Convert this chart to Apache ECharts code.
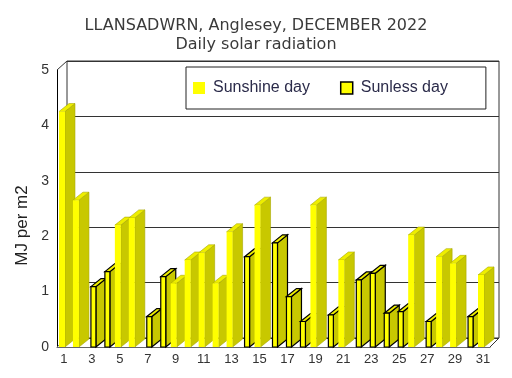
<!DOCTYPE html>
<html>
<head>
<meta charset="utf-8">
<script src="https://cdn.jsdelivr.net/npm/echarts@6/dist/echarts.min.js"></script>
<style>
html, body { margin: 0; padding: 0; background: #fff; }
#chart { width: 512px; height: 378px; }
</style>
</head>
<body>
<div id="chart"></div>
<script>
var days = ['1','2','3','4','5','6','7','8','9','10','11','12','13','14','15','16',
            '17','18','19','20','21','22','23','24','25','26','27','28','29','30','31'];
var radiation = [4.25, 2.65, 1.09, 1.36, 2.20, 2.33, 0.55, 1.27, 1.15, 1.57, 1.70, 1.15, 2.08, 1.63, 2.56, 1.88,
                 0.91, 0.46, 2.56, 0.58, 1.57, 1.21, 1.33, 0.61, 0.64, 2.02, 0.46, 1.63, 1.51, 0.55, 1.30];
// 1 = sunless day
var sunless = [0,0,1,1,0,0,1,1,0,0,0,0,0,1,0,1,1,1,0,1,0,1,1,1,1,0,1,0,0,1,0];
var seriesNames = ['Sunshine day', 'Sunless day'];

var DX = 10, DY = 8; // depth of the 3d look

var barData = [];
for (var i = 0; i < days.length; i++) {
    barData.push([days[i], radiation[i], sunless[i]]);
}

function renderBar(params, api) {
    var v = api.value(1);
    var dull = api.value(2);
    var top = api.coord([api.value(0), v]);
    var base = api.coord([api.value(0), 0]);
    var w = dull ? 5 : 6;
    var x0 = top[0] + (dull ? -1 : -5);
    var x1 = x0 + w;
    var edge = dull ? '#000' : '#a8a800';
    return {
        type: 'group',
        children: [{
            type: 'polygon',
            shape: { points: [[x1, top[1]], [x1 + DX, top[1] - DY], [x1 + DX, base[1] - DY], [x1, base[1]]] },
            style: { fill: '#c8c800', stroke: edge, lineWidth: dull ? 1.2 : 0.6 }
        }, {
            type: 'polygon',
            shape: { points: [[x0, top[1]], [x0 + DX, top[1] - DY], [x1 + DX, top[1] - DY], [x1, top[1]]] },
            style: { fill: '#eeee00', stroke: edge, lineWidth: dull ? 1.2 : 0.6 }
        }, {
            type: 'rect',
            shape: { x: x0, y: top[1], width: w, height: base[1] - top[1] },
            style: { fill: '#ffff00', stroke: dull ? '#000' : null, lineWidth: 1.2 }
        }]
    };
}

var myChart = echarts.init(document.getElementById('chart'));
var option = {
    animation: false,
    title: {
        left: 'center',
        top: 11,
        text: 'LLANSADWRN, Anglesey, DECEMBER 2022\nDaily solar radiation',
        textStyle: { fontFamily: 'DejaVu Sans', fontSize: 16, fontWeight: 'normal', color: '#3a3a3a', lineHeight: 19 }
    },
    legend: {
        left: 186,
        top: 67,
        padding: [13, 38, 13, 7],
        itemWidth: 12,
        itemHeight: 12,
        itemGap: 30,
        borderColor: '#222',
        borderWidth: 1,
        backgroundColor: '#fff',
        textStyle: { fontFamily: 'Liberation Sans', fontSize: 16, color: '#2b2b4a', padding: [0, 0, 0, 3] },
        data: [
            { name: seriesNames[0], icon: 'rect', itemStyle: { color: '#ffff00', borderWidth: 0 } },
            { name: seriesNames[1], icon: 'rect', itemStyle: { color: '#ffff00', borderColor: '#000', borderWidth: 1.5 } }
        ]
    },
    grid: [
        { left: 57, right: 22, top: 70, bottom: 31 },
        { left: 67, right: 13, top: 61, bottom: 40, show: true, borderColor: '#333', borderWidth: 1 }
    ],
    xAxis: [{
        gridIndex: 0,
        type: 'category',
        data: days,
        axisLine: { show: true, lineStyle: { color: '#666' } },
        axisTick: { show: false },
        axisLabel: { interval: 1, margin: 6, fontSize: 13, color: '#333', fontFamily: 'Liberation Sans' }
    }, {
        gridIndex: 1,
        type: 'category',
        data: days,
        show: false
    }],
    yAxis: [{
        gridIndex: 0,
        type: 'value',
        min: 0,
        max: 5,
        interval: 1,
        axisLine: { show: true, lineStyle: { color: '#000' } },
        axisTick: { show: false },
        splitLine: { show: false },
        axisLabel: { margin: 8, fontSize: 14, color: '#333', fontFamily: 'Liberation Sans' },
        name: 'MJ per m2',
        nameLocation: 'middle',
        nameGap: 24,
        nameTextStyle: { fontSize: 17, color: '#222', fontFamily: 'Liberation Sans', padding: [0, 34, 0, 0] }
    }, {
        gridIndex: 1,
        type: 'value',
        min: 0,
        max: 5,
        interval: 1,
        axisLine: { show: false },
        axisTick: { show: false },
        axisLabel: { show: false },
        splitLine: { show: true, lineStyle: { color: '#333', width: 1 } }
    }],
    series: [{
        type: 'custom',
        xAxisIndex: 0,
        yAxisIndex: 0,
        renderItem: renderBar,
        encode: { x: 0, y: 1 },
        data: barData,
        z: 3
    }, {
        name: seriesNames[0], type: 'bar', data: [], itemStyle: { color: '#ffff00' }
    }, {
        name: seriesNames[1], type: 'bar', data: [], itemStyle: { color: '#ffff00', borderColor: '#000' }
    }]
};
myChart.setOption(option);

// frame diagonals between front axis and back wall
var rect0 = myChart.getModel().getComponent('grid', 0).coordinateSystem.getRect();
var rect1 = myChart.getModel().getComponent('grid', 1).coordinateSystem.getRect();
myChart.setOption({
    graphic: [{
        type: 'polyline', z: 1,
        shape: { points: [[rect0.x, rect0.y], [rect1.x, rect1.y]] },
        style: { stroke: '#333', lineWidth: 1 }
    }, {
        type: 'polyline', z: 1,
        shape: { points: [[rect0.x, rect0.y + rect0.height], [rect1.x, rect1.y + rect1.height]] },
        style: { stroke: '#666', lineWidth: 1 }
    }, {
        type: 'polyline', z: 1,
        shape: { points: [[rect0.x + rect0.width, rect0.y + rect0.height], [rect1.x + rect1.width, rect1.y + rect1.height]] },
        style: { stroke: '#333', lineWidth: 1 }
    }]
});
</script>
</body>
</html>
